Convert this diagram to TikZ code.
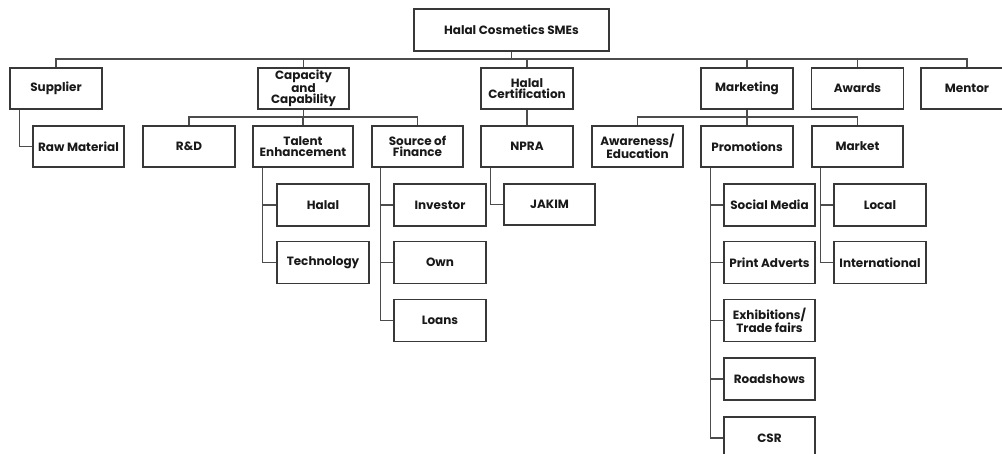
\documentclass[tikz,border=0pt]{standalone}
\usepackage{fontspec}
\setmainfont{Poppins}
\begin{document}
\begin{tikzpicture}[x=1pt,y=-1pt,
  box/.style={draw=black!78, line width=1.3pt, fill=white, minimum height=41pt,
    minimum width=92pt, inner sep=1pt, align=center,
    font=\fontsize{12}{11.5}\selectfont\bfseries, text=black!90},
  link/.style={draw=black!70, line width=1.2pt}]
\useasboundingbox (0,0) rectangle (1002,454);
% root
\node[box, minimum width=195pt, minimum height=42pt] (root) at (511.5,30) {Halal Cosmetics SMEs};
% level 1
\node[box] (sup) at (56,88.5) {Supplier};
\node[box, minimum width=91pt] (cap) at (303.5,88.5) {Capacity\\and\\Capability};
\node[box] (hc) at (527,88.5) {Halal\\Certification};
\node[box] (mkt) at (747,88.5) {Marketing};
\node[box] (awd) at (857.5,88.5) {Awards};
\node[box] (men) at (967,88.5) {Mentor};
% level 2
\node[box, minimum width=91pt] (raw) at (78.5,146.5) {Raw Material};
\node[box] (rd) at (189,146.5) {R\&D};
\node[box, minimum width=100pt] (tal) at (303,146.5) {Talent\\Enhancement};
\node[box, minimum width=91pt] (fin) at (417.5,146.5) {Source of\\Finance};
\node[box] (npra) at (527,146.5) {NPRA};
\node[box, minimum width=91pt] (awa) at (637.5,146.5) {Awareness/\\Education};
\node[box] (pro) at (747,146.5) {Promotions};
\node[box, minimum width=91pt] (mar) at (857.5,146.5) {Market};
% level 3
\node[box, minimum height=42pt] (hal) at (323,205) {Halal};
\node[box, minimum height=42pt] (tec) at (323,262.5) {Technology};
\node[box, minimum height=42pt] (inv) at (440,205) {Investor};
\node[box, minimum height=42pt] (own) at (440,262.5) {Own};
\node[box, minimum height=42pt] (loa) at (440,320.5) {Loans};
\node[box, minimum width=91pt] (jak) at (549.5,204.5) {JAKIM};
\node[box, minimum width=91pt, minimum height=42pt] (soc) at (769.5,205) {Social Media};
\node[box, minimum width=91pt, minimum height=42pt] (pri) at (769.5,262.5) {Print Adverts};
\node[box, minimum width=91pt, minimum height=42pt] (exh) at (769.5,320.5) {Exhibitions/\\Trade fairs};
\node[box, minimum width=91pt, minimum height=42pt] (roa) at (769.5,379) {Roadshows};
\node[box, minimum width=91pt, minimum height=42pt] (csr) at (769.5,438) {CSR};
\node[box, minimum height=42pt] (loc) at (880,205) {Local};
\node[box, minimum height=42pt] (int) at (880,262.5) {International};
% connectors: root bus
\coordinate (b0) at (511.5,59);
\draw[link] (root) -- (b0);
\foreach \n in {sup,cap,hc,mkt,awd,men} \draw[link] (b0) -| (\n);
% capacity bus
\coordinate (b1) at (303.5,117);
\draw[link] (cap) -- (b1);
\foreach \n in {rd,tal,fin} \draw[link] (b1) -| (\n);
% marketing bus
\coordinate (b2) at (747,117);
\draw[link] (mkt) -- (b2);
\foreach \n in {awa,pro,mar} \draw[link] (b2) -| (\n);
% halal cert
\draw[link] (hc) -- (npra);
% side branches
\draw[link] ([xshift=10pt]sup.south west) |- (raw);
\draw[link] ([xshift=10pt]tal.south west) |- (hal);
\draw[link] ([xshift=10pt]tal.south west) |- (tec);
\foreach \n in {inv,own,loa} \draw[link] ([xshift=9pt]fin.south west) |- (\n);
\draw[link] ([xshift=10pt]npra.south west) |- (jak);
\foreach \n in {soc,pri,exh,roa,csr} \draw[link] ([xshift=10pt]pro.south west) |- (\n);
\foreach \n in {loc,int} \draw[link] ([xshift=9pt]mar.south west) |- (\n);
\end{tikzpicture}
\end{document}
